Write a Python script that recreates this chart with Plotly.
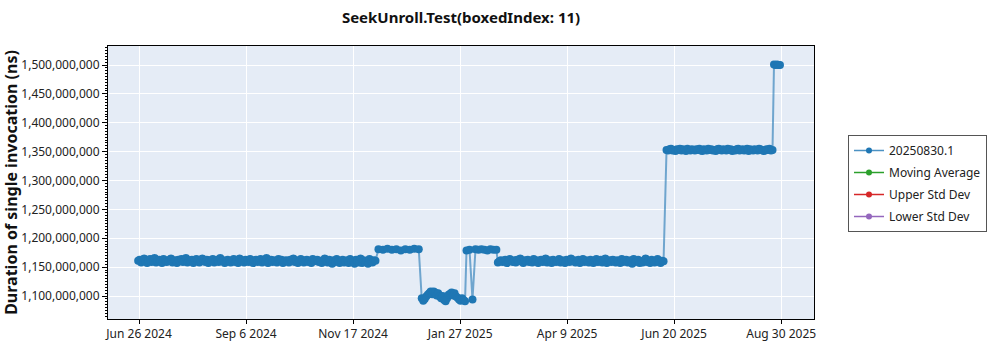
import pandas as pd
import plotly.graph_objects as go

# ---------------- data (values in millions of ns) ----------------
seg1_start, seg1_step = "2024-06-26", 1
seg1_vals = [1161, 1163, 1158, 1162, 1165, 1160, 1157, 1162, 1164, 1159, 1161, 1166, 1158, 1160, 1163, 1161, 1157, 1164, 1162, 1159,
             1160, 1163, 1165, 1158, 1161, 1162, 1157, 1163, 1160, 1164, 1159, 1161, 1166, 1158, 1162, 1160, 1163, 1157, 1161, 1164,
             1162, 1158, 1160, 1165, 1161, 1159, 1163, 1157, 1162, 1160, 1164, 1158, 1161, 1163, 1159, 1166, 1160, 1162, 1157, 1161,
             1163, 1160, 1158, 1162, 1164, 1159, 1161, 1157, 1165, 1160, 1162, 1158, 1163, 1161, 1159, 1164, 1160, 1157, 1162, 1163,
             1159, 1161, 1164, 1158, 1162, 1160, 1166, 1157, 1161, 1163, 1159, 1162, 1160, 1158, 1164, 1161, 1163, 1157, 1160, 1162,
             1161, 1158, 1163, 1160, 1165, 1159, 1162, 1157, 1161, 1164, 1160, 1158, 1162, 1163, 1159, 1161, 1157, 1164, 1160, 1162,
             1163, 1159, 1161, 1157, 1162, 1165, 1160, 1158, 1163, 1161, 1156, 1162, 1159, 1164, 1160, 1157, 1161, 1163, 1158, 1160,
             1162, 1157, 1164, 1159, 1161, 1156, 1163, 1160, 1158, 1165, 1157, 1162, 1159, 1161, 1156, 1164, 1160, 1158, 1162, 1161]

seg2_start, seg2_step = "2024-12-04", 3
seg2_vals = [1181, 1180, 1182, 1180, 1181, 1179, 1181, 1180, 1182, 1181]

seg3_start, seg3_step = "2025-01-02", 1
seg3_vals = [1096, 1092, 1095, 1099, 1102, 1105, 1108, 1103, 1108, 1106,
             1101, 1105, 1099, 1096, 1100, 1093, 1091, 1096, 1102, 1104,
             1106, 1101, 1105, 1099, 1097, 1094, 1092, 1096, 1093, 1091]

seg4_start, seg4_step = "2025-02-01", 2
seg4_vals = [1179, 1180, 1094, 1181, 1180, 1181, 1180, 1179, 1181, 1180, 1180]

seg5_start, seg5_step = "2025-02-22", 1
seg5_vals = [1158, 1160, 1162, 1159, 1161, 1163, 1157, 1160, 1164, 1161, 1159, 1162, 1158, 1163, 1160, 1165, 1161, 1157, 1162, 1160,
             1163, 1159, 1161, 1158, 1164, 1160, 1162, 1157, 1161, 1163, 1159, 1160, 1165, 1158, 1162, 1161, 1157, 1163, 1160, 1159,
             1161, 1164, 1158, 1162, 1160, 1157, 1163, 1161, 1159, 1165, 1160, 1162, 1158, 1161, 1163, 1157, 1160, 1164, 1159, 1162,
             1160, 1158, 1163, 1161, 1157, 1162, 1164, 1159, 1160, 1163, 1158, 1161, 1165, 1157, 1160, 1162, 1159, 1163, 1161, 1158,
             1162, 1160, 1157, 1164, 1159, 1161, 1163, 1158, 1160, 1162, 1156, 1164, 1159, 1161, 1163, 1157, 1160, 1158, 1162, 1165,
             1159, 1161, 1157, 1163, 1160, 1158, 1162, 1164, 1159, 1157, 1161, 1160]

seg6_start, seg6_step = "2025-06-15", 1
seg6_vals = [1353, 1352, 1354, 1355, 1352, 1353, 1351, 1354, 1353, 1355, 1352, 1354, 1353, 1351, 1355, 1353, 1352, 1354, 1353, 1352,
             1354, 1353, 1355, 1352, 1351, 1354, 1353, 1352, 1355, 1353, 1354, 1352, 1353, 1351, 1354, 1355, 1353, 1352, 1354, 1353,
             1352, 1355, 1353, 1354, 1351, 1353, 1352, 1354, 1355, 1352, 1353, 1354, 1352, 1353, 1355, 1351, 1354, 1353, 1352, 1354,
             1353, 1352, 1355, 1354, 1353, 1351, 1352, 1354, 1353, 1355, 1352, 1353]

seg7_start, seg7_step = "2025-08-26", 1
seg7_vals = [1501, 1500, 1501, 1500, 1500]

segments = [
    (seg1_start, seg1_step, seg1_vals),
    (seg2_start, seg2_step, seg2_vals),
    (seg3_start, seg3_step, seg3_vals),
    (seg4_start, seg4_step, seg4_vals),
    (seg5_start, seg5_step, seg5_vals),
    (seg6_start, seg6_step, seg6_vals),
    (seg7_start, seg7_step, seg7_vals),
]

dates, values = [], []
for start, step, vals in segments:
    dates += list(pd.date_range(start, periods=len(vals), freq=f"{step}D"))
    values += [v * 1e6 for v in vals]

series_name = "20250830.1"
legend_names = ["Moving Average", "Upper Std Dev", "Lower Std Dev"]
legend_colors = ["#2ca02c", "#d62728", "#9467bd"]

tick_labels = ["Jun 26 2024", "Sep 6 2024", "Nov 17 2024", "Jan 27 2025",
               "Apr 9 2025", "Jun 20 2025", "Aug 30 2025"]
tick_start = pd.Timestamp("2024-06-26 14:24")
tick_step = pd.Timedelta(days=71.7)
tick_vals = [tick_start + i * tick_step for i in range(len(tick_labels))]

# ---------------- figure ----------------
FONT = "Noto Sans"
fig = go.Figure()
fig.add_trace(go.Scatter(
    x=dates, y=values, mode="lines+markers", name=series_name,
    legendgroup="a", showlegend=False,
    line=dict(color="rgba(31,119,180,0.6)", width=2),
    marker=dict(color="#1f77b4", size=8),
))
# legend entry for the main series (small symbol, linked to it by legendgroup)
fig.add_trace(go.Scatter(
    x=[None], y=[None], mode="lines+markers", name=series_name,
    legendgroup="a",
    line=dict(color="rgba(31,119,180,0.8)", width=1.5),
    marker=dict(color="#1f77b4", size=6),
))
for i, (nm, col) in enumerate(zip(legend_names, legend_colors)):
    fig.add_trace(go.Scatter(
        x=[None], y=[None], mode="lines+markers", name=nm,
        legendgroup=f"g{i}",
        line=dict(color=col, width=1.5), marker=dict(color=col, size=6),
    ))

# legend shadow
fig.add_shape(type="rect", xref="paper", yref="paper",
              x0=(851 - 108) / 706, x1=(978 - 108) / 706,
              y0=(319 - 231) / 273, y1=(319 - 139) / 273,
              fillcolor="#a0a0a0", line_width=0, layer="above")

fig.update_layout(
    width=1000, height=350,
    margin=dict(l=108, r=186, t=46, b=31),
    paper_bgcolor="white", plot_bgcolor="#E5ECF6",
    font=dict(family=FONT, size=12, color="#222"),
    title=dict(text="<b>SeekUnroll.Test(boxedIndex: 11)</b>",
               x=(461) / 1000, xanchor="center", y=1 - 18 / 350, yanchor="middle",
               font=dict(family=FONT, size=15, color="#111")),
    showlegend=True,
    legend=dict(x=(848 - 108) / 706, xanchor="left",
                y=(319 - 135) / 273, yanchor="top",
                bgcolor="white", bordercolor="#555", borderwidth=1,
                font=dict(family=FONT, size=12, color="#222"),
                tracegroupgap=3, traceorder="grouped"),
)
fig.update_xaxes(
    type="date", automargin=False,
    range=[tick_start - pd.Timedelta(days=20.8), tick_start + pd.Timedelta(days=452.2)],
    tickmode="array", tickvals=tick_vals, ticktext=tick_labels,
    showgrid=True, gridcolor="white", gridwidth=1,
    showline=True, linecolor="black", linewidth=1, mirror=True,
    ticks="outside", ticklen=4, tickcolor="black",
    zeroline=False,
)
fig.update_yaxes(
    automargin=False,
    range=[1060.2e6, 1532.9e6],
    dtick=50e6, tick0=0, tickformat=",d",
    showgrid=True, gridcolor="white", gridwidth=1,
    showline=True, linecolor="black", linewidth=1, mirror=True,
    ticks="outside", ticklen=5, tickcolor="black",
    minor=dict(dtick=5e6, ticks="outside", ticklen=2, tickcolor="black", showgrid=False),
    zeroline=False,
    title=dict(text="<b>Duration of single invocation (ns)</b>", standoff=6,
               font=dict(family=FONT, size=16, color="#111")),
)

fig.write_html("out.html")
